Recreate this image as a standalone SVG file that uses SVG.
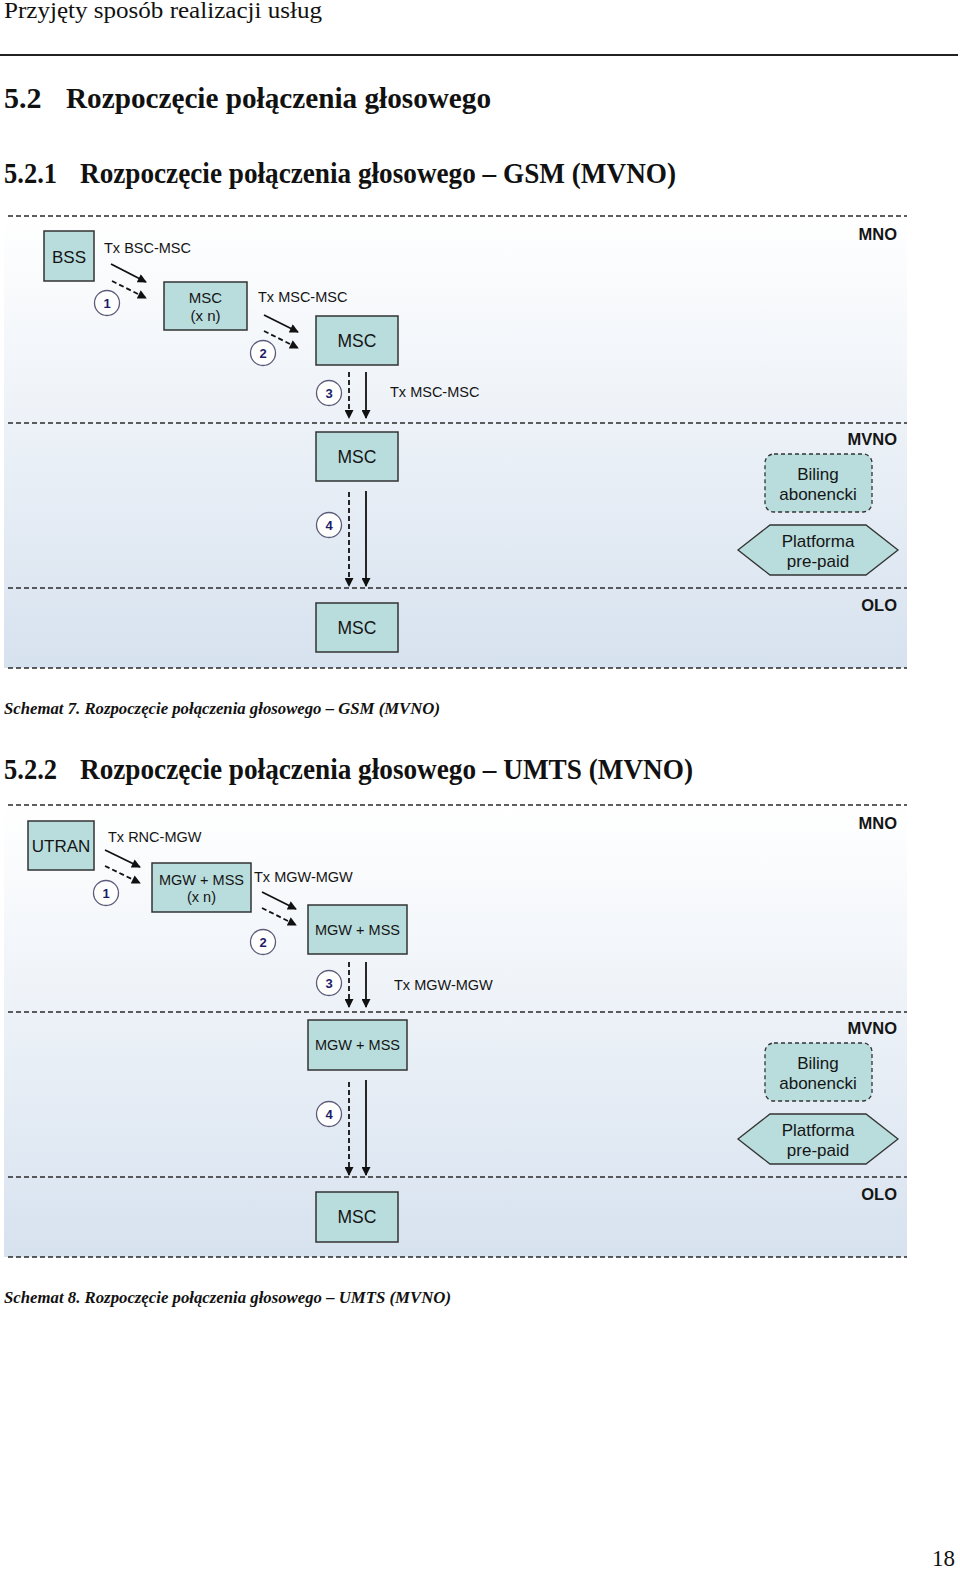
<svg xmlns="http://www.w3.org/2000/svg" width="960" height="1569" viewBox="0 0 960 1569">
<style>
.page{font-family:"Liberation Serif","Times New Roman",serif;fill:#111}
.h{font-weight:bold;font-size:30px}
.cap{font-weight:bold;font-style:italic;font-size:17px}
.t{font-family:"Liberation Sans",Arial,sans-serif;fill:#151515}
.lbl{font-size:14.5px}
.zone{font-weight:bold;font-size:16.5px;text-anchor:end}
.box{fill:#b9dcdc;stroke:#333;stroke-width:1.5}
.num circle{fill:#fff;stroke:#5c5c7a;stroke-width:1.3}
.num text{font-family:"Liberation Sans",Arial,sans-serif;font-weight:bold;font-size:13px;fill:#1c1c6b;text-anchor:middle}
.c{text-anchor:middle}
.sol{stroke:#111;stroke-width:1.8;fill:none;marker-end:url(#ah)}
.dsh{stroke:#111;stroke-width:1.8;fill:none;stroke-dasharray:5 3;marker-end:url(#ah)}
.sep{stroke:#2a2a2a;stroke-width:1.3;stroke-dasharray:5 3;fill:none}
</style>
<defs>
<linearGradient id="bg" x1="0" y1="0" x2="0" y2="1">
<stop offset="0" stop-color="#ffffff"/>
<stop offset="1" stop-color="#d7e2ef"/>
</linearGradient>
<marker id="ah" viewBox="0 0 10 10" refX="9" refY="5" markerWidth="10" markerHeight="9" markerUnits="userSpaceOnUse" orient="auto">
<path d="M0,0 L10,5 L0,10 z" fill="#111"/>
</marker>
</defs>
<rect width="960" height="1569" fill="#fff"/>

<g id="page-header">
<text class="page" x="4" y="18" font-size="23" textLength="318" lengthAdjust="spacingAndGlyphs" fill="#222">Przyjęty sposób realizacji usług</text>
<line x1="0" y1="55" x2="958" y2="55" stroke="#222" stroke-width="2"/>
<text class="page h" x="4" y="108">5.2</text>
<text class="page h" x="66" y="108" textLength="425" lengthAdjust="spacingAndGlyphs">Rozpoczęcie połączenia głosowego</text>
<text class="page h" x="4" y="183" textLength="53" lengthAdjust="spacingAndGlyphs">5.2.1</text>
<text class="page h" x="80" y="183" textLength="596" lengthAdjust="spacingAndGlyphs">Rozpoczęcie połączenia głosowego – GSM (MVNO)</text>
</g>

<!-- Diagram 1 -->
<g id="diagram1-background">
<rect x="4" y="216" width="903" height="452" fill="url(#bg)"/>
<line class="sep" x1="8" y1="216" x2="907" y2="216"/>
<line class="sep" x1="8" y1="423" x2="907" y2="423"/>
<line class="sep" x1="8" y1="588" x2="907" y2="588"/>
<line class="sep" x1="8" y1="668" x2="907" y2="668"/>
<text class="t zone" x="897" y="240">MNO</text>
<text class="t zone" x="897" y="445">MVNO</text>
<text class="t zone" x="897" y="611">OLO</text>
</g>

<g id="d1-bss"><rect class="box" x="44" y="231" width="50" height="50"/><text class="t c" x="69" y="263" font-size="17">BSS</text></g>
<g id="d1-msc-xn"><rect class="box" x="164" y="282" width="83" height="48"/><text class="t c" x="205.5" y="303" font-size="15">MSC</text><text class="t c" x="205.5" y="321" font-size="15">(x n)</text></g>
<g id="d1-msc-a"><rect class="box" x="316" y="316" width="82" height="49"/><text class="t c" x="357" y="347" font-size="17.5">MSC</text></g>
<g id="d1-msc-b"><rect class="box" x="316" y="432" width="82" height="49"/><text class="t c" x="357" y="463" font-size="17.5">MSC</text></g>
<g id="d1-msc-c"><rect class="box" x="316" y="603" width="82" height="49"/><text class="t c" x="357" y="634" font-size="17.5">MSC</text></g>
<g id="d1-biling"><rect x="765" y="454" width="107" height="58" rx="9" fill="#b9dcdc" stroke="#333" stroke-width="1.3" stroke-dasharray="4 3"/><text class="t c" x="818" y="480" font-size="17">Biling</text><text class="t c" x="818" y="500" font-size="17">abonencki</text></g>
<g id="d1-prepaid"><polygon points="738,550 770,525 866,525 898,550 866,575 770,575" fill="#b9dcdc" stroke="#333" stroke-width="1.3"/><text class="t c" x="818" y="547" font-size="17">Platforma</text><text class="t c" x="818" y="567" font-size="17">pre-paid</text></g>

<g id="d1-numbers" class="num">
<circle cx="107" cy="303" r="12.5"/><text x="107" y="308">1</text>
<circle cx="263" cy="353" r="12.5"/><text x="263" y="358">2</text>
<circle cx="329" cy="393" r="12.5"/><text x="329" y="398">3</text>
<circle cx="329" cy="525" r="12.5"/><text x="329" y="530">4</text>
</g>

<g id="d1-connectors">
<line class="sol" x1="111" y1="264" x2="146" y2="282"/>
<line class="dsh" x1="112" y1="281" x2="146" y2="298"/>
<line class="sol" x1="264" y1="315" x2="298" y2="332"/>
<line class="dsh" x1="264" y1="331" x2="298" y2="348"/>
<line class="dsh" x1="349" y1="372" x2="349" y2="418"/>
<line class="sol" x1="366" y1="372" x2="366" y2="418"/>
<line class="dsh" x1="349" y1="492" x2="349" y2="586"/>
<line class="sol" x1="366" y1="491" x2="366" y2="586"/>
<text class="t lbl" x="104" y="253">Tx BSC-MSC</text>
<text class="t lbl" x="258" y="302">Tx MSC-MSC</text>
<text class="t lbl" x="390" y="397">Tx MSC-MSC</text>
</g>

<text class="page cap" x="4" y="714" textLength="436" lengthAdjust="spacingAndGlyphs">Schemat 7. Rozpoczęcie połączenia głosowego – GSM (MVNO)</text>
<text class="page h" x="4" y="779" textLength="53" lengthAdjust="spacingAndGlyphs">5.2.2</text>
<text class="page h" x="80" y="779" textLength="613" lengthAdjust="spacingAndGlyphs">Rozpoczęcie połączenia głosowego – UMTS (MVNO)</text>

<!-- Diagram 2 -->
<g id="diagram2-background">
<rect x="4" y="805" width="903" height="452" fill="url(#bg)"/>
<line class="sep" x1="8" y1="805" x2="907" y2="805"/>
<line class="sep" x1="8" y1="1012" x2="907" y2="1012"/>
<line class="sep" x1="8" y1="1177" x2="907" y2="1177"/>
<line class="sep" x1="8" y1="1257" x2="907" y2="1257"/>
<text class="t zone" x="897" y="829">MNO</text>
<text class="t zone" x="897" y="1034">MVNO</text>
<text class="t zone" x="897" y="1200">OLO</text>
</g>

<g id="d2-utran"><rect class="box" x="28" y="821" width="66" height="49"/><text class="t c" x="61" y="852" font-size="17">UTRAN</text></g>
<g id="d2-mgw-xn"><rect class="box" x="152" y="863" width="99" height="49"/><text class="t c" x="201.5" y="885" font-size="14.5">MGW + MSS</text><text class="t c" x="201.5" y="902" font-size="14.5">(x n)</text></g>
<g id="d2-mgw-a"><rect class="box" x="308" y="905" width="99" height="49"/><text class="t c" x="357.5" y="935" font-size="14.5">MGW + MSS</text></g>
<g id="d2-mgw-b"><rect class="box" x="308" y="1020" width="99" height="50"/><text class="t c" x="357.5" y="1050" font-size="14.5">MGW + MSS</text></g>
<g id="d2-msc"><rect class="box" x="316" y="1192" width="82" height="50"/><text class="t c" x="357" y="1223" font-size="17.5">MSC</text></g>
<g id="d2-biling"><rect x="765" y="1043" width="107" height="58" rx="9" fill="#b9dcdc" stroke="#333" stroke-width="1.3" stroke-dasharray="4 3"/><text class="t c" x="818" y="1069" font-size="17">Biling</text><text class="t c" x="818" y="1089" font-size="17">abonencki</text></g>
<g id="d2-prepaid"><polygon points="738,1139 770,1114 866,1114 898,1139 866,1164 770,1164" fill="#b9dcdc" stroke="#333" stroke-width="1.3"/><text class="t c" x="818" y="1136" font-size="17">Platforma</text><text class="t c" x="818" y="1156" font-size="17">pre-paid</text></g>

<g id="d2-numbers" class="num">
<circle cx="106" cy="893" r="12.5"/><text x="106" y="898">1</text>
<circle cx="263" cy="942" r="12.5"/><text x="263" y="947">2</text>
<circle cx="329" cy="983" r="12.5"/><text x="329" y="988">3</text>
<circle cx="329" cy="1114" r="12.5"/><text x="329" y="1119">4</text>
</g>

<g id="d2-connectors">
<line class="sol" x1="105" y1="850" x2="140" y2="867"/>
<line class="dsh" x1="105" y1="866" x2="140" y2="883"/>
<line class="sol" x1="262" y1="892" x2="296" y2="909"/>
<line class="dsh" x1="262" y1="908" x2="296" y2="925"/>
<line class="dsh" x1="349" y1="962" x2="349" y2="1007"/>
<line class="sol" x1="366" y1="962" x2="366" y2="1007"/>
<line class="dsh" x1="349" y1="1082" x2="349" y2="1175"/>
<line class="sol" x1="366" y1="1080" x2="366" y2="1175"/>
<text class="t lbl" x="108" y="842">Tx RNC-MGW</text>
<text class="t lbl" x="254" y="882">Tx MGW-MGW</text>
<text class="t lbl" x="394" y="990">Tx MGW-MGW</text>
</g>

<text class="page cap" x="4" y="1303" textLength="447" lengthAdjust="spacingAndGlyphs">Schemat 8. Rozpoczęcie połączenia głosowego – UMTS (MVNO)</text>
<text class="page" x="932" y="1566" font-size="24" textLength="23" lengthAdjust="spacingAndGlyphs">18</text>
</svg>
